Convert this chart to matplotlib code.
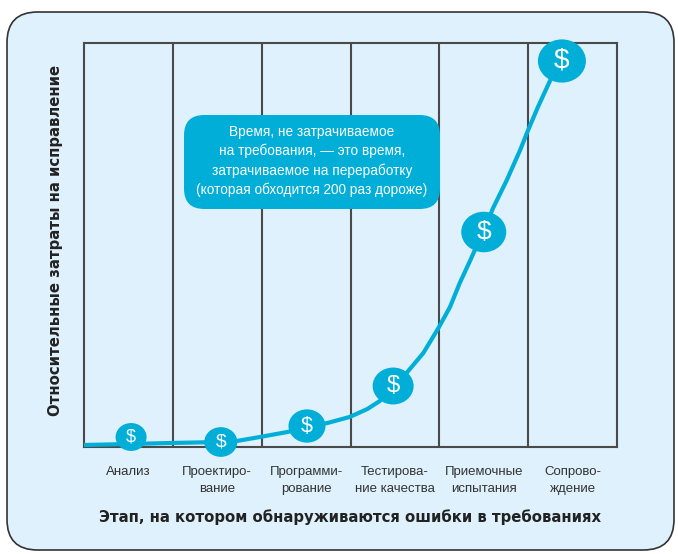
import matplotlib
matplotlib.use("Agg")
import matplotlib.pyplot as plt
from matplotlib.patches import FancyBboxPatch, Ellipse

plt.rcParams['font.family'] = ['Liberation Sans', 'DejaVu Sans']

# stages (columns)
stages = ["Анализ", "Проектиро-\nвание", "Программи-\nрование",
          "Тестирова-\nние качества", "Приемочные\nиспытания", "Сопрово-\nждение"]

# cost curve (x in column units, y in relative cost)
curve_x = [0.00, 0.52, 0.97, 1.54, 1.72, 1.98, 2.29, 2.51, 2.74, 2.99, 3.19,
           3.33, 3.48, 3.64, 3.82, 3.99, 4.12, 4.23, 4.35, 4.40, 4.50, 4.60,
           4.76, 4.91, 5.00, 5.11, 5.25, 5.38]
curve_y = [1.0, 1.5, 2.0, 2.5, 3.0, 5.0, 7.5, 10.0, 12.0, 15.0, 19.0,
           23.0, 30.0, 37.5, 47.0, 59.5, 70.0, 82.0, 93.5, 98.5, 107.5, 119.0,
           133.5, 148.5, 158.5, 170.0, 183.5, 193.0]

# coins ($ markers)
coin_x = [0.53, 1.54, 2.51, 3.48, 4.50, 5.38]
coin_y = [5.0, 2.5, 10.5, 30.5, 107.5, 193.0]
coin_d = [31, 33, 37, 41, 45, 48]   # diameter in pixels

note = ("Время, не затрачиваемое\nна требования, — это время,\n"
        "затрачиваемое на переработку\n(которая обходится 200 раз дороже)")

bg = '#def1fc'
cyan = '#00aed8'
frame = '#4a4a4a'

fig = plt.figure(figsize=(6.78, 5.54), dpi=100)
W, H = 678, 554

# outer rounded panel
panel = FancyBboxPatch((7/W, 4/H), 667/W, 538/H,
                       boxstyle="round,pad=0,rounding_size=0.045",
                       transform=fig.transFigure, facecolor=bg,
                       edgecolor='#333333', linewidth=1.2, mutation_aspect=W/H,
                       zorder=-10)
fig.patches.append(panel)

ax = fig.add_axes([84/W, (H-447)/H, 533/W, 404/H])
ax.set_facecolor(bg)
ax.set_xlim(0, 6)
ax.set_ylim(0, 202)
for s in ax.spines.values():
    s.set_color(frame)
    s.set_linewidth(1.5)
for i in range(1, 6):
    ax.axvline(i, color=frame, lw=1.5, zorder=1)

ax.set_xticks([i + 0.5 for i in range(6)])
ax.set_xticklabels(stages, fontsize=9.5, color='#333333', linespacing=1.55)
ax.tick_params(axis='x', length=0, pad=14)
ax.set_yticks([])

ax.plot(curve_x, curve_y, color=cyan, lw=3.0, zorder=3, clip_on=False,
        solid_capstyle='butt', solid_joinstyle='round')

px_x = 6 / 533.0
px_y = 202 / 404.0
for x, y, d in zip(coin_x, coin_y, coin_d):
    e = Ellipse((x, y), d * px_x, d * 0.9 * px_y, facecolor=cyan,
                edgecolor='none', zorder=4, clip_on=False)
    ax.add_patch(e)
    ax.text(x, y, "$", color='white', fontsize=d * 0.42, ha='center',
            va='center', zorder=5)

# callout box
box = FancyBboxPatch((184/W, (H-209)/H), 256/W, 94/H,
                     boxstyle="round,pad=0,rounding_size=0.03",
                     transform=fig.transFigure, facecolor=cyan,
                     edgecolor='none', mutation_aspect=W/H, zorder=6)
fig.patches.append(box)
fig.text(312/W, (H-161)/H, note, color='white', fontsize=9.8, ha='center',
         va='center', linespacing=1.4, zorder=7)

ax.set_xlabel("Этап, на котором обнаруживаются ошибки в требованиях",
              fontsize=10.75, fontweight='bold', color='#222222', labelpad=10,
              family=['DejaVu Sans'])
ax.set_ylabel("Относительные затраты на исправление",
              fontsize=10.75, fontweight='bold', color='#222222',
              family=['DejaVu Sans'])
ax.yaxis.set_label_coords(-0.04, 0.512)

fig.savefig("out.png", dpi=100, facecolor='white')
